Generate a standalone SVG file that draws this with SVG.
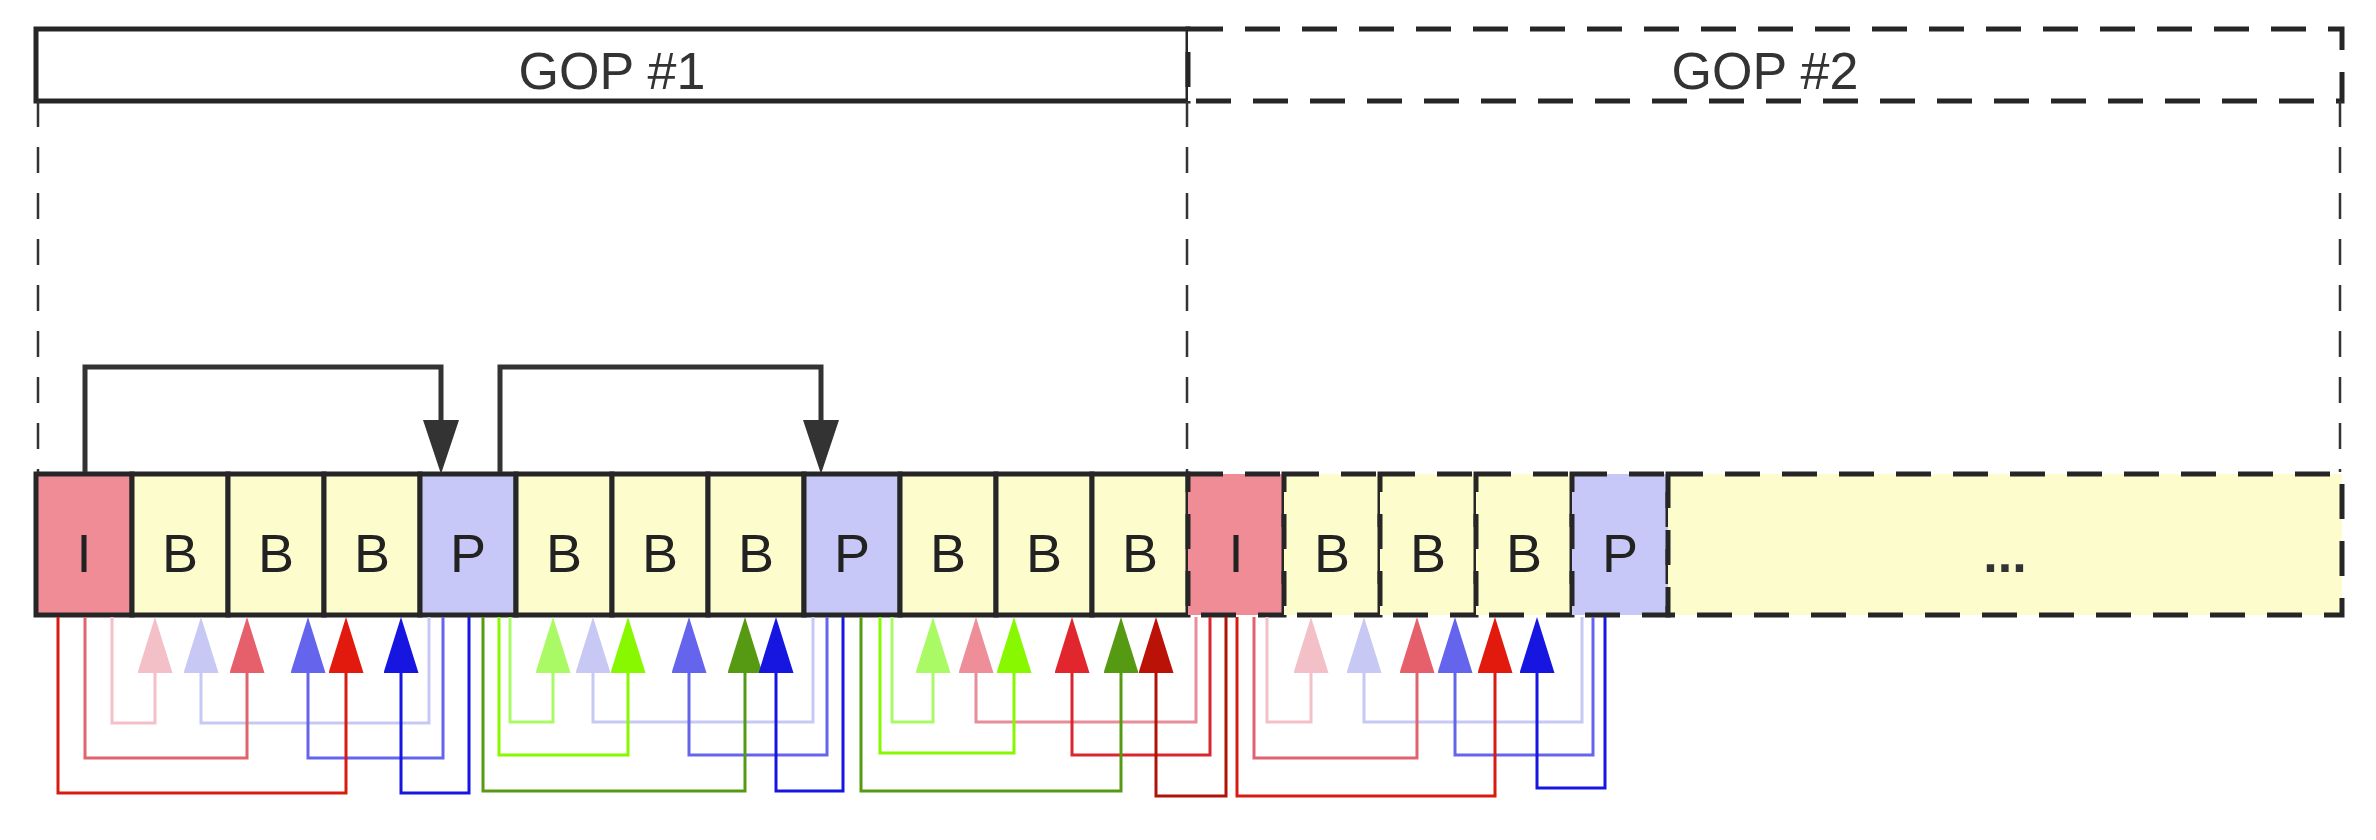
<svg xmlns="http://www.w3.org/2000/svg" width="2376" height="840" viewBox="0 0 2376 840">
<defs>
<style>
.gop{fill:#fff;stroke:#262626;stroke-width:5}
.dash{stroke-dasharray:35 22}
.guide{fill:none;stroke:#333;stroke-width:2.5;stroke-dasharray:26 20}
.fr{stroke:#262626;stroke-width:5}
.I{fill:#F08C96}
.B{fill:#FCFCCC}
.P{fill:#C8C8F8}
.lbl{font-family:"Liberation Sans",Arial,sans-serif;font-size:54px;fill:#222;text-anchor:middle}
.glbl{font-family:"Liberation Sans",Arial,sans-serif;font-size:52px;fill:#333;text-anchor:middle}
.dots{font-family:"Liberation Sans",Arial,sans-serif;font-size:52px;font-weight:bold;fill:#333;text-anchor:middle}
.top{fill:none;stroke:#333;stroke-width:5;marker-end:url(#mk-black)}
.c{fill:none;stroke-width:3}
.pk1{stroke:#F4C0C8;marker-end:url(#m-pk1)}
.lv1{stroke:#C8C8F4;marker-end:url(#m-lv1)}
.pk2{stroke:#E0646E;marker-end:url(#m-pk2)}
.bl2{stroke:#6464EC;marker-end:url(#m-bl2)}
.rd3{stroke:#D81A10;marker-end:url(#m-rd3)}
.bl3{stroke:#1616E0;marker-end:url(#m-bl3)}
.gn1{stroke:#AAFA66;marker-end:url(#m-gn1)}
.gn2{stroke:#88F800;marker-end:url(#m-gn2)}
.gn3{stroke:#559A12;marker-end:url(#m-gn3)}
.pkB{stroke:#E88E98;marker-end:url(#m-pkB)}
.rdB{stroke:#DA262E;marker-end:url(#m-rdB)}
.drk{stroke:#B01206;marker-end:url(#m-drk)}
</style>
<marker id="mk-black" markerUnits="userSpaceOnUse" markerWidth="54" markerHeight="36" refX="0" refY="18" orient="auto" viewBox="0 0 54 36"><path d="M0,0 L54,18 L0,36 z" fill="#333"/></marker>
<marker id="m-pk1" markerUnits="userSpaceOnUse" markerWidth="56" markerHeight="35" refX="0" refY="17.5" orient="auto" viewBox="0 0 56 35"><path d="M0,0 L56,17.5 L0,35 z" fill="#F4C0C8"/></marker>
<marker id="m-lv1" markerUnits="userSpaceOnUse" markerWidth="56" markerHeight="35" refX="0" refY="17.5" orient="auto" viewBox="0 0 56 35"><path d="M0,0 L56,17.5 L0,35 z" fill="#C8C8F4"/></marker>
<marker id="m-pk2" markerUnits="userSpaceOnUse" markerWidth="56" markerHeight="35" refX="0" refY="17.5" orient="auto" viewBox="0 0 56 35"><path d="M0,0 L56,17.5 L0,35 z" fill="#E6606C"/></marker>
<marker id="m-bl2" markerUnits="userSpaceOnUse" markerWidth="56" markerHeight="35" refX="0" refY="17.5" orient="auto" viewBox="0 0 56 35"><path d="M0,0 L56,17.5 L0,35 z" fill="#6464EC"/></marker>
<marker id="m-rd3" markerUnits="userSpaceOnUse" markerWidth="56" markerHeight="35" refX="0" refY="17.5" orient="auto" viewBox="0 0 56 35"><path d="M0,0 L56,17.5 L0,35 z" fill="#E21A0E"/></marker>
<marker id="m-bl3" markerUnits="userSpaceOnUse" markerWidth="56" markerHeight="35" refX="0" refY="17.5" orient="auto" viewBox="0 0 56 35"><path d="M0,0 L56,17.5 L0,35 z" fill="#1616E0"/></marker>
<marker id="m-gn1" markerUnits="userSpaceOnUse" markerWidth="56" markerHeight="35" refX="0" refY="17.5" orient="auto" viewBox="0 0 56 35"><path d="M0,0 L56,17.5 L0,35 z" fill="#AAFA66"/></marker>
<marker id="m-gn2" markerUnits="userSpaceOnUse" markerWidth="56" markerHeight="35" refX="0" refY="17.5" orient="auto" viewBox="0 0 56 35"><path d="M0,0 L56,17.5 L0,35 z" fill="#88F800"/></marker>
<marker id="m-gn3" markerUnits="userSpaceOnUse" markerWidth="56" markerHeight="35" refX="0" refY="17.5" orient="auto" viewBox="0 0 56 35"><path d="M0,0 L56,17.5 L0,35 z" fill="#559A12"/></marker>
<marker id="m-pkB" markerUnits="userSpaceOnUse" markerWidth="56" markerHeight="35" refX="0" refY="17.5" orient="auto" viewBox="0 0 56 35"><path d="M0,0 L56,17.5 L0,35 z" fill="#EE8E98"/></marker>
<marker id="m-rdB" markerUnits="userSpaceOnUse" markerWidth="56" markerHeight="35" refX="0" refY="17.5" orient="auto" viewBox="0 0 56 35"><path d="M0,0 L56,17.5 L0,35 z" fill="#E2262E"/></marker>
<marker id="m-drk" markerUnits="userSpaceOnUse" markerWidth="56" markerHeight="35" refX="0" refY="17.5" orient="auto" viewBox="0 0 56 35"><path d="M0,0 L56,17.5 L0,35 z" fill="#BA1206"/></marker>
</defs>
<rect width="2376" height="840" fill="#fff"/>

<g id="gop1">
<rect class="gop" x="36" y="29" width="1152" height="72"/>
<text class="glbl" x="612" y="89">GOP #1</text>
</g>
<g id="gop2">
<rect class="gop dash" x="1188" y="29" width="1154" height="72"/>
<text class="glbl" x="1765" y="89">GOP #2</text>
</g>

<g id="guides">
<line class="guide" x1="38" y1="101" x2="38" y2="472"/>
<line class="guide" x1="1187" y1="101" x2="1187" y2="472"/>
<line class="guide" x1="2340" y1="101" x2="2340" y2="472"/>
</g>

<g id="frames">
<g id="f0"><rect class="fr I" x="36" y="474" width="96" height="141"/><text class="lbl" x="84" y="572">I</text></g>
<g id="f1"><rect class="fr B" x="132" y="474" width="96" height="141"/><text class="lbl" x="180" y="572">B</text></g>
<g id="f2"><rect class="fr B" x="228" y="474" width="96" height="141"/><text class="lbl" x="276" y="572">B</text></g>
<g id="f3"><rect class="fr B" x="324" y="474" width="96" height="141"/><text class="lbl" x="372" y="572">B</text></g>
<g id="f4"><rect class="fr P" x="420" y="474" width="96" height="141"/><text class="lbl" x="468" y="572">P</text></g>
<g id="f5"><rect class="fr B" x="516" y="474" width="96" height="141"/><text class="lbl" x="564" y="572">B</text></g>
<g id="f6"><rect class="fr B" x="612" y="474" width="96" height="141"/><text class="lbl" x="660" y="572">B</text></g>
<g id="f7"><rect class="fr B" x="708" y="474" width="96" height="141"/><text class="lbl" x="756" y="572">B</text></g>
<g id="f8"><rect class="fr P" x="804" y="474" width="96" height="141"/><text class="lbl" x="852" y="572">P</text></g>
<g id="f9"><rect class="fr B" x="900" y="474" width="96" height="141"/><text class="lbl" x="948" y="572">B</text></g>
<g id="f10"><rect class="fr B" x="996" y="474" width="96" height="141"/><text class="lbl" x="1044" y="572">B</text></g>
<g id="f11"><rect class="fr B" x="1092" y="474" width="96" height="141"/><text class="lbl" x="1140" y="572">B</text></g>
<g id="f12"><rect class="fr dash I" x="1188" y="474" width="96" height="141"/><text class="lbl" x="1236" y="572">I</text></g>
<g id="f13"><rect class="fr dash B" x="1284" y="474" width="96" height="141"/><text class="lbl" x="1332" y="572">B</text></g>
<g id="f14"><rect class="fr dash B" x="1380" y="474" width="96" height="141"/><text class="lbl" x="1428" y="572">B</text></g>
<g id="f15"><rect class="fr dash B" x="1476" y="474" width="96" height="141"/><text class="lbl" x="1524" y="572">B</text></g>
<g id="f16"><rect class="fr dash P" x="1572" y="474" width="96" height="141"/><text class="lbl" x="1620" y="572">P</text></g>
<g id="f17"><rect class="fr dash B" x="1668" y="474" width="674" height="141"/><text class="dots" x="2005" y="572">...</text></g>
</g>

<g id="connectors">
<path class="top" d="M85,472 V367 H441 V420"/>
<path class="top" d="M500,472 V367 H821 V420"/>

<path class="c pk1" d="M112,617 V723 H155 V673"/>
<path class="c lv1" d="M429,617 V723 H201 V673"/>
<path class="c pk2" d="M85,617 V758 H247 V673"/>
<path class="c bl2" d="M443,617 V758 H308 V673"/>
<path class="c rd3" d="M58,617 V793 H346 V673"/>
<path class="c bl3" d="M469,617 V793 H401 V673"/>

<path class="c gn1" d="M510,617 V722 H553 V673"/>
<path class="c lv1" d="M813,617 V722 H593 V673"/>
<path class="c gn2" d="M499,617 V755 H628 V673"/>
<path class="c bl2" d="M827,617 V755 H689 V673"/>
<path class="c gn3" d="M483,617 V791 H745 V673"/>
<path class="c bl3" d="M843,617 V791 H776 V673"/>

<path class="c gn1" d="M892,617 V722 H933 V673"/>
<path class="c pkB" d="M1196,617 V722 H976 V673"/>
<path class="c gn2" d="M880,617 V753 H1014 V673"/>
<path class="c rdB" d="M1210,617 V755 H1072 V673"/>
<path class="c gn3" d="M861,617 V791 H1121 V673"/>
<path class="c drk" d="M1226,617 V796 H1156 V673"/>

<path class="c pk1" d="M1267,617 V722 H1311 V673"/>
<path class="c lv1" d="M1582,617 V722 H1364 V673"/>
<path class="c pk2" d="M1254,617 V758 H1417 V673"/>
<path class="c bl2" d="M1593,617 V755 H1455 V673"/>
<path class="c rd3" d="M1237,617 V796 H1495 V673"/>
<path class="c bl3" d="M1605,617 V788 H1537 V673"/>
</g>
</svg>
